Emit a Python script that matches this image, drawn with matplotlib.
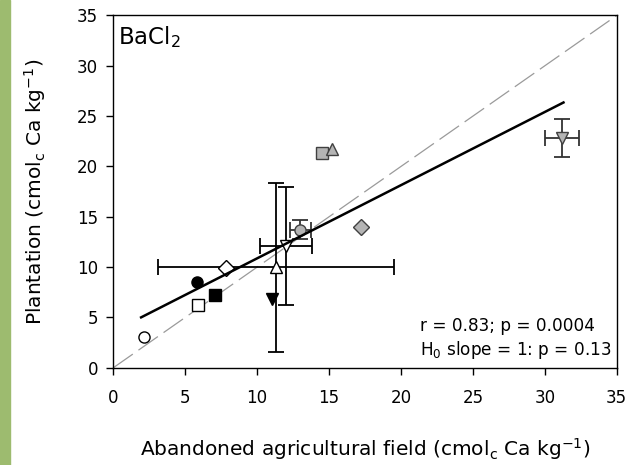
import numpy as np
import matplotlib
matplotlib.use("Agg")
import matplotlib.pyplot as plt

plt.rcParams['font.family'] = ['DejaVu Sans']
plt.rcParams['mathtext.fontset'] = 'dejavusans'

# exchangeable Ca (BaCl2 extraction), abandoned field vs plantation
field = [2.1, 5.8, 5.9, 7.1, 7.8, 11.0, 11.3, 12.0, 13.0, 14.5, 15.2, 17.2, 31.2]
plantation = [3.1, 8.5, 6.2, 7.2, 9.9, 6.8, 10.0, 12.1, 13.7, 21.3, 21.7, 14.0, 22.8]
field_err = [0, 0, 0, 0, 0, 0, 8.23, 1.8, 0.75, 0, 0, 0, 1.2]
plantation_err = [0, 0, 0, 0, 0, 0, 8.4, 5.85, 0.95, 0, 0, 0, 1.9]
markers = ['o', 'o', 's', 's', 'D', 'v', '^', 'v', 'o', 's', '^', 'D', 'v']
fills = ['white', 'black', 'white', 'black', 'white', 'black', 'white', 'white',
         '#b4b4b4', '#b4b4b4', '#b4b4b4', '#b4b4b4', '#b4b4b4']

# regression fit
slope = 0.727
intercept = 3.6

fig = plt.figure(figsize=(6.28, 4.65), dpi=100)
# green strip on the left edge
fig.patches.append(plt.Rectangle((0, 0), 10 / 628, 1, transform=fig.transFigure,
                                 color='#9dbb6f', zorder=0))
ax = fig.add_axes([0.1805, 0.2092, 0.8015, 0.7575])

# 1:1 line
ax.plot([0, 35], [0, 35], color='#9a9a9a', lw=0.9, dashes=(19, 5.5), zorder=1)

for i in range(len(field)):
    dark = fills[i] == '#b4b4b4'
    edge = '#404040' if dark else 'black'
    if field_err[i] > 0 or plantation_err[i] > 0:
        ax.errorbar(field[i], plantation[i], xerr=field_err[i], yerr=plantation_err[i],
                    fmt='none', ecolor='#333333' if dark else 'black', elinewidth=1.3,
                    capsize=6, capthick=1.3, zorder=2)
    size = 8.5 if markers[i] == 'D' else 8
    ax.plot(field[i], plantation[i], marker=markers[i], ms=size, mfc=fills[i],
            mec=edge, mew=1.0, ls='none', zorder=3)

xs = np.array([min(field) - 0.17, max(field) + 0.1])
ax.plot(xs, slope * xs + intercept, color='black', lw=1.8, zorder=4)

ax.set_xlim(0, 35)
ax.set_ylim(0, 35)
ax.set_xticks(np.arange(0, 36, 5))
ax.set_yticks(np.arange(0, 36, 5))
ax.tick_params(direction='out', length=5, width=1, labelsize=12, top=False, right=False)
ax.tick_params(axis='x', pad=10)
ax.tick_params(axis='y', pad=6)
for s in ax.spines.values():
    s.set_linewidth(1.0)

ax.set_xlabel('Abandoned agricultural field (cmol$_\\mathregular{c}$ Ca kg$^\\mathregular{-1}$)',
              fontsize=14.5)
ax.set_ylabel('Plantation (cmol$_\\mathregular{c}$ Ca kg$^\\mathregular{-1}$)', fontsize=14.5)
ax.xaxis.set_label_coords(0.5, -0.195)
ax.yaxis.set_label_coords(-0.129, 0.5)

ax.text(0.35, 32.15, 'BaCl$_\\mathregular{2}$', fontsize=16.5, va='baseline', ha='left')
ax.text(21.3, 3.65, 'r = 0.83; p = 0.0004', fontsize=12.2, va='baseline', ha='left')
ax.text(21.3, 1.26, 'H$_\\mathregular{0}$ slope = 1: p = 0.13', fontsize=12.2, va='baseline', ha='left')

fig.savefig('out.png', dpi=100)
